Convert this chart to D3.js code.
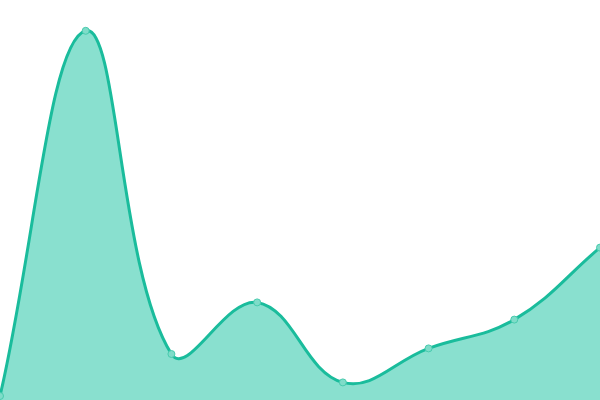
<!DOCTYPE html>
<html>
<head>
<meta charset="utf-8">
<script src="https://cdn.jsdelivr.net/npm/d3@7"></script>
<style>
  body { margin: 0; background: #fff; }
</style>
</head>
<body>
<script>
var labels = ["A", "B", "C", "D", "E", "F", "G", "H"];
var values = [1, 92.3, 11.5, 24.4, 4.4, 12.9, 20.1, 38.1];

var width = 600;
var height = 400;

// spline with distance-weighted control points (tension 0.4)
function splineCurve(context) {
  return {
    lineStart: function () { this._pts = []; },
    point: function (x, y) { this._pts.push([x, y]); },
    lineEnd: function () {
      var pts = this._pts, t = 0.4, cps = [];
      for (var i = 0; i < pts.length; i++) {
        var p = pts[i - 1] || pts[i], c = pts[i], n = pts[i + 1] || pts[i];
        var d01 = Math.hypot(c[0] - p[0], c[1] - p[1]);
        var d12 = Math.hypot(n[0] - c[0], n[1] - c[1]);
        var s01 = d01 / (d01 + d12) || 0;
        var s12 = d12 / (d01 + d12) || 0;
        var fa = t * s01, fb = t * s12;
        cps.push({
          prev: [c[0] - fa * (n[0] - p[0]), c[1] - fa * (n[1] - p[1])],
          next: [c[0] + fb * (n[0] - p[0]), c[1] + fb * (n[1] - p[1])]
        });
      }
      context.moveTo(pts[0][0], pts[0][1]);
      for (var j = 1; j < pts.length; j++) {
        context.bezierCurveTo(cps[j - 1].next[0], cps[j - 1].next[1],
                              cps[j].prev[0], cps[j].prev[1],
                              pts[j][0], pts[j][1]);
      }
    },
    areaStart: function () {},
    areaEnd: function () {}
  };
}

var svg = d3.select('body').append('svg')
      .attr('width', width)
      .attr('height', height);

var x = d3.scalePoint()
      .domain(labels)
      .range([0, width]);

var y = d3.scaleLinear()
      .domain([0, 100])
      .range([height, 0]);

var data = labels.map(function (d, i) {
  return { label: d, value: values[i] };
});

var line = d3.line()
      .x(function (d) { return x(d.label); })
      .y(function (d) { return y(d.value); })
      .curve(splineCurve);

var linePath = line(data);

svg.append('path')
    .attr('d', linePath + 'L' + x(labels[labels.length - 1]) + ',' + y(0) + 'L' + x(labels[0]) + ',' + y(0) + 'Z')
    .style('fill', '#89e0cf');

svg.append('path')
    .attr('d', linePath)
    .style('fill', 'none')
    .style('stroke', '#1abc9c')
    .style('stroke-width', 3);

svg.selectAll('circle')
    .data(data)
    .enter()
    .append('circle')
    .attr('cx', function (d) { return x(d.label); })
    .attr('cy', function (d) { return y(d.value); })
    .attr('r', 3.5)
    .style('fill', '#7fdcc9')
    .style('stroke', '#48cbae')
    .style('stroke-width', 1);
</script>
</body>
</html>
